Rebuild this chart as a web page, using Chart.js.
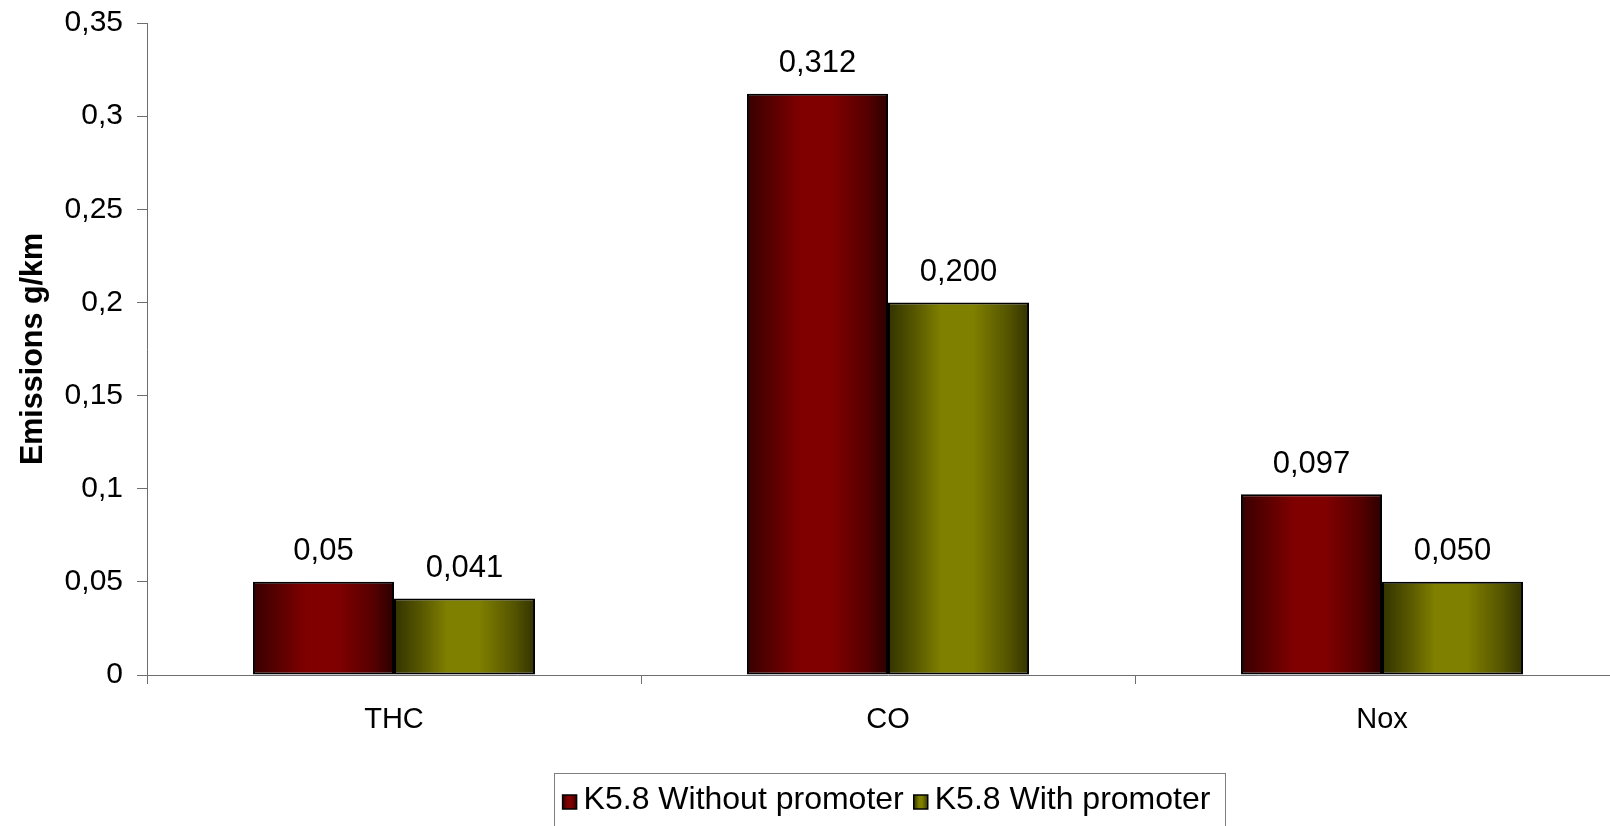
<!DOCTYPE html>
<html>
<head>
<meta charset="utf-8">
<script src="https://cdn.jsdelivr.net/npm/chart.js@4.4.1/dist/chart.umd.min.js"></script>
<style>
  html, body { margin: 0; padding: 0; background: #ffffff; overflow: hidden; }
  #wrap { width: 1773px; height: 826px; }
</style>
</head>
<body>
<div id="wrap"><canvas id="c" width="1773" height="826"></canvas></div>
<script>
// ---- data ----
const categories = ['THC', 'CO', 'Nox'];
const seriesNames = ['K5.8 Without promoter', 'K5.8 With promoter'];
const withoutPromoter = [0.05, 0.312, 0.097];
const withPromoter = [0.041, 0.200, 0.050];
const withoutLabels = ['0,05', '0,312', '0,097'];
const withLabels = ['0,041', '0,200', '0,050'];
const yTickLabels = ['0', '0,05', '0,1', '0,15', '0,2', '0,25', '0,3', '0,35'];
const yAxisTitle = 'Emissions g/km';

// ---- styles ----
const FONT = 'Liberation Sans, Arial, sans-serif';
const gradStops = [
  [[0, '#380000'], [0.18, '#5a0000'], [0.38, '#800000'], [0.6, '#800000'], [0.85, '#560000'], [1, '#2c0000']],
  [[0, '#333300'], [0.18, '#555500'], [0.38, '#808000'], [0.6, '#808000'], [0.85, '#555500'], [1, '#333300']]
];
const solid = ['#800000', '#808000'];
const valueLabels = [withoutLabels, withLabels];

function makeGrad(ctx, x0, x1, di) {
  const g = ctx.createLinearGradient(x0, 0, x1, 0);
  gradStops[di].forEach(s => g.addColorStop(s[0], s[1]));
  return g;
}

const gradPlugin = {
  id: 'gradBars',
  beforeDatasetsDraw(chart) {
    const ctx = chart.ctx;
    chart.data.datasets.forEach((ds, di) => {
      chart.getDatasetMeta(di).data.forEach(el => {
        const half = el.width / 2;
        el.options = Object.assign({}, el.options, { backgroundColor: makeGrad(ctx, el.x - half, el.x + half, di) });
      });
    });
  },
  afterDatasetsDraw(chart) {
    const ctx = chart.ctx;
    ctx.save();
    ctx.font = '31px ' + FONT;
    ctx.fillStyle = '#000';
    ctx.textAlign = 'center';
    ctx.textBaseline = 'middle';
    chart.data.datasets.forEach((ds, di) => {
      chart.getDatasetMeta(di).data.forEach((el, i) => {
        ctx.fillText(valueLabels[di][i], el.x, el.y - 30);
      });
    });
    ctx.restore();
  },
  afterDraw(chart) {
    const lg = chart.legend;
    if (!lg || !lg.legendHitBoxes || !lg.legendHitBoxes.length) return;
    const ctx = chart.ctx;
    const hbs = lg.legendHitBoxes;
    ctx.save();
    // legend frame
    const left = hbs[0].left - 9;
    const last = hbs[hbs.length - 1];
    const right = last.left + last.width + 14;
    ctx.strokeStyle = '#7f7f7f';
    ctx.lineWidth = 1;
    ctx.strokeRect(Math.round(left) + 0.5, Math.round(lg.top) - 0.5, Math.round(right - left), chart.height);
    // swatches
    hbs.forEach((hb, di) => {
      const s = 14;
      const x = hb.left;
      const y = hb.top + hb.height / 2 - s / 2 + 2;
      ctx.fillStyle = makeGrad(ctx, x, x + s, di);
      ctx.fillRect(x, y, s, s);
      ctx.strokeStyle = '#000';
      ctx.lineWidth = 1.5;
      ctx.strokeRect(x, y, s, s);
    });
    ctx.restore();
  }
};

new Chart(document.getElementById('c'), {
  type: 'bar',
  data: {
    labels: categories,
    datasets: [
      { label: seriesNames[0], data: withoutPromoter, backgroundColor: solid[0] },
      { label: seriesNames[1], data: withPromoter, backgroundColor: solid[1] }
    ]
  },
  options: {
    responsive: false,
    animation: false,
    devicePixelRatio: 1,
    layout: { padding: { top: 23, left: 0, right: 0, bottom: 0 } },
    datasets: {
      bar: {
        categoryPercentage: 0.571,
        barPercentage: 1,
        borderColor: '#000000',
        borderWidth: 2,
        borderSkipped: false
      }
    },
    plugins: {
      legend: {
        position: 'bottom',
        labels: {
          font: { family: FONT, size: 32 },
          color: '#000',
          boxWidth: 5,
          boxHeight: 14,
          padding: 10,
          generateLabels(chart) {
            return chart.data.datasets.map((ds, i) => ({
              text: ds.label,
              fillStyle: 'rgba(0,0,0,0)',
              strokeStyle: 'rgba(0,0,0,0)',
              lineWidth: 0,
              hidden: false,
              datasetIndex: i
            }));
          }
        }
      },
      tooltip: { enabled: false },
      title: { display: false }
    },
    scales: {
      x: {
        position: 'bottom',
        offset: true,
        grid: {
          display: true,
          offset: true,
          drawOnChartArea: false,
          drawTicks: true,
          tickLength: 9,
          color: '#6e6e6e'
        },
        border: { display: true, color: '#6e6e6e', width: 1 },
        ticks: {
          font: { family: FONT, size: 29 },
          color: '#000',
          padding: 19,
          maxRotation: 0
        },
        afterFit(scale) { scale.height = 99; }
      },
      y: {
        position: 'left',
        min: 0,
        max: 0.35,
        grid: {
          display: true,
          drawOnChartArea: false,
          drawTicks: true,
          tickLength: 10,
          color: '#6e6e6e'
        },
        border: { display: true, color: '#6e6e6e', width: 1 },
        ticks: {
          stepSize: 0.05,
          font: { family: FONT, size: 30, lineHeight: 0.6 },
          color: '#000',
          padding: 14,
          callback: (v, i) => yTickLabels[i]
        },
        title: {
          display: true,
          text: yAxisTitle,
          color: '#000',
          font: { family: FONT, size: 30.5, weight: 'bold' },
          padding: { top: 15, bottom: 0 }
        },
        afterFit(scale) { scale.width = 147; }
      },
      yRight: {
        position: 'right',
        display: true,
        min: 0,
        max: 1,
        grid: { display: false, drawTicks: false },
        border: { display: false },
        ticks: { display: false },
        afterFit(scale) { scale.width = 144; }
      }
    }
  },
  plugins: [gradPlugin]
});
</script>
</body>
</html>
